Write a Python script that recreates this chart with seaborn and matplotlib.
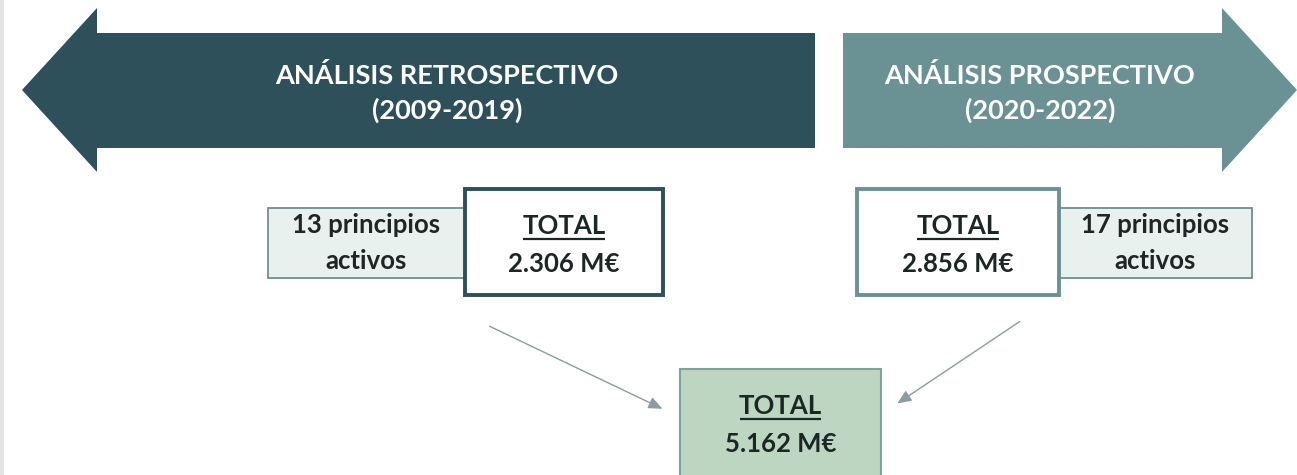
import matplotlib
matplotlib.use("Agg")
import matplotlib.pyplot as plt
import matplotlib.patches as mpatches
import seaborn as sns

# data
periods = ["ANÁLISIS RETROSPECTIVO", "ANÁLISIS PROSPECTIVO"]
years = ["(2009-2019)", "(2020-2022)"]
n_actives = [13, 17]
totals = [2306, 2856]
grand_total = sum(totals)

DARK = "#2D505A"
MID = "#6A9194"
PALE = "#E9F1EF"
GREEN = "#BCD6C1"
TXT = "#1C2624"

sns.set_theme(style="white")
plt.rcParams["font.family"] = ["Lato", "DejaVu Sans"]

W, H = 1297, 475
fig = plt.figure(figsize=(W / 100, H / 100), dpi=100)
ax = fig.add_axes([0, 0, 1, 1])
ax.set_xlim(0, W)
ax.set_ylim(H, 0)
ax.axis("off")

# thin grey strip on the left border
ax.add_patch(mpatches.Rectangle((0, 0), 4, H, color="#E3E3E3", lw=0))


def fmt(v):
    return "{:,}".format(v).replace(",", ".") + " M€"


# big arrows
left_arrow = [(22, 90), (97, 8), (97, 33), (815, 33), (815, 148), (97, 148), (97, 172)]
right_arrow = [(843, 33), (1222, 33), (1222, 8), (1297, 90), (1222, 172), (1222, 148), (843, 148)]
ax.add_patch(mpatches.Polygon(left_arrow, closed=True, color=DARK, lw=0))
ax.add_patch(mpatches.Polygon(right_arrow, closed=True, color=MID, lw=0))

head_x = [447, 1040]
for i in range(2):
    ax.text(head_x[i], 75, periods[i], ha="center", va="center", color="white",
            fontsize=19.5, fontweight="bold")
    ax.text(head_x[i], 110, years[i], ha="center", va="center", color="white",
            fontsize=19.5, fontweight="bold")

# side boxes with number of actives
side_boxes = [(268, 465), (1059, 1252)]
for (x0, x1), n in zip(side_boxes, n_actives):
    ax.add_patch(mpatches.Rectangle((x0, 208), x1 - x0, 70, facecolor=PALE,
                                    edgecolor="#6F8F8E", lw=1.3))
    cx = (x0 + x1) / 2
    ax.text(cx, 225, f"{n} principios", ha="center", va="center", color=TXT,
            fontsize=18.5, fontweight="bold")
    ax.text(cx, 261, "activos", ha="center", va="center", color=TXT,
            fontsize=18.5, fontweight="bold")

underline_texts = []


def total_box(x0, x1, y0, y1, value, fc, ec, lw):
    ax.add_patch(mpatches.Rectangle((x0, y0), x1 - x0, y1 - y0, facecolor=fc,
                                    edgecolor=ec, lw=lw))
    cx = (x0 + x1) / 2
    t = ax.text(cx, y0 + 37, "TOTAL", ha="center", va="center", color=TXT,
                fontsize=18.5, fontweight="bold")
    ax.text(cx, y0 + 75, fmt(value), ha="center", va="center", color=TXT,
            fontsize=18.5, fontweight="bold")
    underline_texts.append(t)


total_box(465, 663, 189, 295, totals[0], "white", DARK, 2.8)
total_box(857, 1059, 189, 295, totals[1], "white", MID, 2.8)
total_box(680, 881, 369, 480, grand_total, GREEN, "#7FA39B", 1.5)

# underline the TOTAL labels
fig.canvas.draw()
r = fig.canvas.get_renderer()
inv = ax.transData.inverted()
for t in underline_texts:
    bb = t.get_window_extent(r)
    (xa, ya), (xb, yb) = inv.transform([(bb.x0, bb.y0), (bb.x1, bb.y1)])
    ax.plot([xa + 1, xb - 1], [ya + 1, ya + 1], color=TXT, lw=1.6,
            solid_capstyle="butt")

# connector arrows
arrow_kw = dict(arrowstyle="-|>,head_length=0.7,head_width=0.3", color="#8C9C9F", lw=1)
ax.annotate("", xy=(665, 410), xytext=(487, 325), arrowprops=arrow_kw)
ax.annotate("", xy=(895, 405), xytext=(1022, 320), arrowprops=arrow_kw)

fig.savefig("out.png", dpi=100)
